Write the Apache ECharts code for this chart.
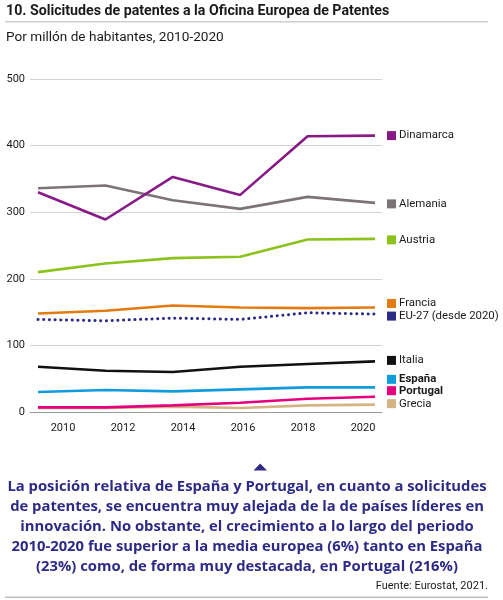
<!DOCTYPE html>
<html><head><meta charset="utf-8">
<script src="https://cdn.jsdelivr.net/npm/echarts@6/dist/echarts.min.js"></script>
<style>html,body{margin:0;padding:0;background:#fff}#c{width:503px;height:600px}</style>
</head><body><div id="c"></div>
<script>
var years = ['2010','2012','2014','2016','2018','2020'];
var tickYears = [2010,2012,2014,2016,2018,2020];
var dinamarca = [330,289,353,326,414,415];
var alemania = [336,340,318,305,323,314];
var austria = [210,223,231,233,259,260];
var francia = [148,152,160,157,156,157];
var eu27 = [139,137,141,139,149,147];
var italia = [68,62,60,68,72,76];
var espana = [30,33,31,34,37,37];
var portugal = [7,7,10,14,20,23];
var grecia = [6,6,8,6,10,11];

var FONT = 'Roboto';
var WIDE = 'Open Sans';
var chart = echarts.init(document.getElementById('c'), null, {renderer:'canvas'});

function mk(name, data, color, dy, bold, dotted){
  return {
    type:'line', name:name, data:data, xAxisIndex:1, yAxisIndex:1,
    symbol:'none', silent:true,
    lineStyle: dotted ? {color:color, width:3, type:[0.1,5.6], cap:'round'} : {color:color, width:2.6},
    endLabel:{
      show:true, distance:12, offset:[0,dy],
      formatter: '{s|}{t|' + name + '}',
      rich:{
        s:{width:9, height:9, backgroundColor:color},
        t:{fontFamily:FONT, fontSize:11.4, color:'#1a1a1a', fontWeight: bold?'bold':'normal', padding:[0,0,0,3]}
      }
    }
  };
}

chart.setOption({
  animation:false,
  grid:[
    {left:30, right:121, top:79, bottom:188},
    {left:38, right:128, top:79, bottom:188}
  ],
  xAxis:[
    {type:'value', gridIndex:0, min:2008.9, max:2020.633,
     axisLine:{show:true, lineStyle:{color:'#9a9a9a', width:1}},
     axisTick:{show:false}, splitLine:{show:false},
     axisLabel:{customValues:tickYears, formatter:function(v){return String(v);}, margin:11, fontFamily:FONT, fontSize:11, color:'#1a1a1a'}},
    {type:'category', gridIndex:1, data:years, boundaryGap:false, show:false}
  ],
  yAxis:[
    {type:'value', gridIndex:0, min:0, max:500, interval:100,
     axisLine:{show:false}, axisTick:{show:false},
     splitLine:{lineStyle:{color:'#d3d3d3', width:1}},
     axisLabel:{margin:5, fontFamily:FONT, fontSize:11, color:'#1a1a1a'}},
    {type:'value', gridIndex:1, min:0, max:500, show:false, splitLine:{show:false}}
  ],
  series:[
    mk('Grecia', grecia, '#d4b483', -1),
    mk('Portugal', portugal, '#e5007d', -6, true),
    mk('España', espana, '#0f9bdc', -8, true),
    mk('Italia', italia, '#111111', -1),
    mk('EU-27 (desde 2020)', eu27, '#2d2a86', 2, false, true),
    mk('Francia', francia, '#e27c12', -4),
    mk('Austria', austria, '#8cc21c', 1),
    mk('Alemania', alemania, '#7b7477', 1),
    mk('Dinamarca', dinamarca, '#871a86', 0)
  ],
  graphic:[
    {type:'text', left:6, top:4, style:{text:'10. Solicitudes de patentes a la Oficina Europea de Patentes', fontFamily:FONT, fontSize:14.2, fontWeight:'bold', fill:'#1a1a1a'}},
    {type:'rect', shape:{x:5, y:21, width:483, height:1.5}, style:{fill:'#cfcfcf'}},
    {type:'text', left:6, top:31, style:{text:'Por millón de habitantes, 2010-2020', fontFamily:FONT, fontSize:13.6, fill:'#1a1a1a'}},
    {type:'polygon', shape:{points:[[253.5,470.5],[267,470.5],[260.2,463.5]]}, style:{fill:'#2d2a86'}},
    {type:'text', x:247, y:477, style:{text:'La posición relativa de España y Portugal, en cuanto a solicitudes\nde patentes, se encuentra muy alejada de la de países líderes en\ninnovación. No obstante, el crecimiento a lo largo del periodo\n2010-2020 fue superior a la media europea (6%) tanto en España\n(23%) como, de forma muy destacada, en Portugal (216%)', align:'center', verticalAlign:'top', lineHeight:20, fontFamily:WIDE, fontSize:14.8, fontWeight:'bold', fill:'#2d2a86'}},
    {type:'text', x:488, y:586, style:{text:'Fuente: Eurostat, 2021.', align:'right', verticalAlign:'middle', fontFamily:FONT, fontSize:11, fill:'#1a1a1a'}},
    {type:'rect', shape:{x:5, y:596.5, width:483, height:1.5}, style:{fill:'#bdbdbd'}}
  ]
});
</script></body></html>
